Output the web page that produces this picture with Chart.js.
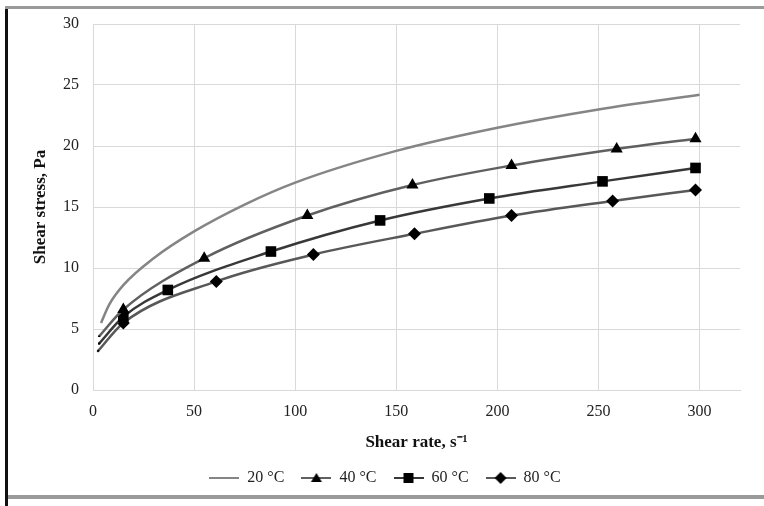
<!DOCTYPE html>
<html>
<head>
<meta charset="utf-8">
<style>
  html, body { margin: 0; padding: 0; background: #fff; }
  #wrap { width: 764px; height: 506px; position: relative; }
</style>
<script src="https://cdn.jsdelivr.net/npm/chart.js@4.4.0/dist/chart.umd.min.js"></script>
</head>
<body>
<div id="wrap"><canvas id="flow" width="764" height="506"></canvas></div>
<script>
// shear rate (s-1) and shear stress (Pa)
const rate20 = [4, 8, 15, 30, 50, 75, 100, 150, 200, 250, 300];
const stress20 = [5.5, 7.0, 8.6, 10.8, 13.0, 15.2, 17.0, 19.6, 21.5, 23.0, 24.2];
const rate40 = [3, 15, 55, 106, 158, 207, 259, 298];
const stress40 = [4.4, 6.6, 10.8, 14.3, 16.8, 18.4, 19.75, 20.6];
const rate60 = [3, 15, 37, 88, 142, 196, 252, 298];
const stress60 = [3.8, 6.0, 8.2, 11.35, 13.9, 15.7, 17.1, 18.2];
const rate80 = [2.5, 15, 61, 109, 159, 207, 257, 298];
const stress80 = [3.2, 5.5, 8.9, 11.1, 12.8, 14.3, 15.5, 16.4];
const seriesNames = ['20 °C', '40 °C', '60 °C', '80 °C'];
const xTicks = [0, 50, 100, 150, 200, 250, 300];

const pts = (xs, ys) => xs.map((x, i) => ({ x: x, y: ys[i] }));

// little legend icons: line with the marker on top
function icon(shape, lineCol) {
  const c = document.createElement('canvas');
  c.width = 30; c.height = 14;
  const g = c.getContext('2d');
  g.strokeStyle = lineCol; g.lineWidth = 2;
  g.beginPath(); g.moveTo(0, 7); g.lineTo(30, 7); g.stroke();
  g.fillStyle = '#000';
  g.beginPath();
  if (shape === 'dot') { g.fillStyle = lineCol; g.fillRect(13, 6, 4, 2); }
  if (shape === 'triangle') { g.moveTo(15, 2); g.lineTo(20.5, 11); g.lineTo(9.5, 11); g.closePath(); g.fill(); }
  if (shape === 'rect') { g.fillRect(10, 2, 10, 10); }
  if (shape === 'rectRot') { g.moveTo(15, 1); g.lineTo(21, 7); g.lineTo(15, 13); g.lineTo(9, 7); g.closePath(); g.fill(); }
  return c;
}

const lineCols = ['#858585', '#606060', '#383838', '#585858'];
const shapes = ['dot', 'triangle', 'rect', 'rectRot'];
const legendIcons = shapes.map((s, i) => icon(s, lineCols[i]));

const framePlugin = {
  id: 'frame',
  beforeDraw(chart) {
    const c = chart.ctx;
    c.save();
    c.fillStyle = '#fff';
    c.fillRect(0, 0, chart.width, chart.height);
    c.fillStyle = '#9a9a9a';
    c.fillRect(5, 6, chart.width - 5, 3);
    c.fillRect(5, 495, chart.width - 5, 4);
    c.fillStyle = '#111';
    c.fillRect(5, 9, 3, chart.height - 9);
    c.restore();
  }
};

const serif = 'Liberation Serif, Times New Roman, serif';

new Chart(document.getElementById('flow'), {
  type: 'scatter',
  data: {
    datasets: [
      { label: seriesNames[0], data: pts(rate20, stress20), pointStyle: 'circle', pointRadius: 0 },
      { label: seriesNames[1], data: pts(rate40, stress40), pointStyle: 'triangle', pointRadius: c => c.dataIndex === 0 ? 1.5 : 7 },
      { label: seriesNames[2], data: pts(rate60, stress60), pointStyle: 'rect', pointRadius: c => c.dataIndex === 0 ? 1.5 : 7.5 },
      { label: seriesNames[3], data: pts(rate80, stress80), pointStyle: 'rectRot', pointRadius: c => c.dataIndex === 0 ? 1.5 : 6.5 }
    ].map((d, i) => Object.assign(d, {
      showLine: true,
      borderColor: lineCols[i],
      borderWidth: 2.5,
      backgroundColor: '#000',
      pointBackgroundColor: '#000',
      pointBorderColor: '#000',
      pointBorderWidth: 0,
      pointHoverRadius: 0,
      cubicInterpolationMode: 'monotone'
    }))
  },
  options: {
    animation: false,
    responsive: false,
    layout: { padding: { left: 30, right: 24, top: 24, bottom: 10 } },
    plugins: {
      tooltip: { enabled: false },
      legend: {
        position: 'bottom',
        labels: {
          usePointStyle: true,
          pointStyleWidth: 30,
          boxHeight: 14,
          padding: 17,
          color: '#222',
          font: { family: serif, size: 16 },
          generateLabels: chart => chart.data.datasets.map((d, i) => ({
            text: d.label,
            pointStyle: legendIcons[i],
            fillStyle: '#000',
            strokeStyle: lineCols[i],
            lineWidth: 0,
            hidden: false,
            datasetIndex: i,
            fontColor: '#222'
          }))
        }
      }
    },
    scales: {
      x: {
        type: 'linear',
        min: 0,
        max: 320,
        afterBuildTicks: s => { s.ticks = xTicks.map(v => ({ value: v })); },
        afterFit: s => { s.height = 63; },
        grid: { color: '#d9d9d9', lineWidth: 1, drawTicks: false },
        border: { color: '#d9d9d9' },
        ticks: { color: '#222', padding: 12, font: { family: serif, size: 16 } },
        title: {
          display: true,
          text: 'Shear rate, s⁻¹',
          color: '#111',
          padding: { top: 4, bottom: 0 },
          font: { family: serif, size: 17, weight: 'bold' }
        }
      },
      y: {
        min: 0,
        max: 30,
        ticks: { stepSize: 5, color: '#222', padding: 14, font: { family: serif, size: 16 } },
        afterFit: s => { s.width = 63; },
        grid: { color: '#d9d9d9', lineWidth: 1, drawTicks: false },
        border: { color: '#d9d9d9' },
        title: {
          display: true,
          text: 'Shear stress, Pa',
          color: '#111',
          padding: { top: 0, bottom: 4 },
          font: { family: serif, size: 17, weight: 'bold' }
        }
      }
    }
  },
  plugins: [framePlugin]
});
</script>
</body>
</html>
